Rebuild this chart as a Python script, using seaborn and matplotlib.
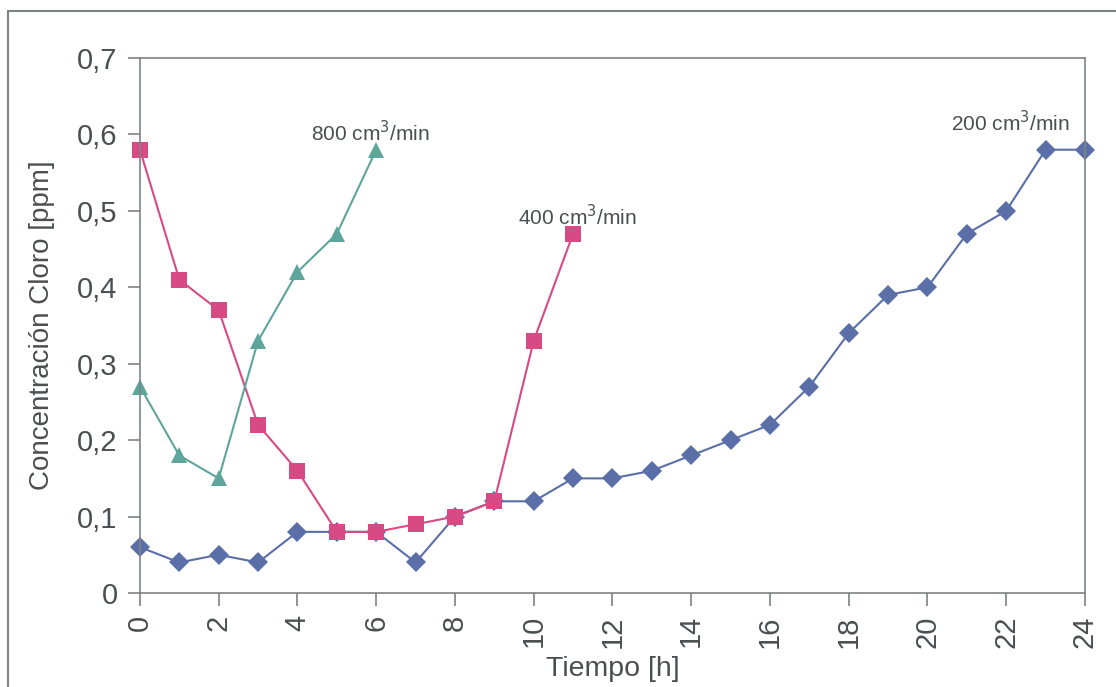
import pandas as pd
import seaborn as sns
import matplotlib.pyplot as plt
from matplotlib.lines import Line2D

# data
horas_200 = list(range(0, 25))
cloro_200 = [0.06, 0.04, 0.05, 0.04, 0.08, 0.08, 0.08, 0.04, 0.10, 0.12, 0.12, 0.15, 0.15,
             0.16, 0.18, 0.20, 0.22, 0.27, 0.34, 0.39, 0.40, 0.47, 0.50, 0.58, 0.58]
horas_400 = list(range(0, 12))
cloro_400 = [0.58, 0.41, 0.37, 0.22, 0.16, 0.08, 0.08, 0.09, 0.10, 0.12, 0.33, 0.47]
horas_800 = list(range(0, 7))
cloro_800 = [0.27, 0.18, 0.15, 0.33, 0.42, 0.47, 0.58]

series = ['200', '400', '800']
colores = {'200': '#5a6ea8', '400': '#d84a84', '800': '#5ea59b'}
marcadores = {'200': 'D', '400': 's', '800': '^'}
tamanos = {'200': 10, '400': 11.5, '800': 12}

df = pd.concat([
    pd.DataFrame({'t': horas_200, 'c': cloro_200, 'caudal': '200'}),
    pd.DataFrame({'t': horas_400, 'c': cloro_400, 'caudal': '400'}),
    pd.DataFrame({'t': horas_800, 'c': cloro_800, 'caudal': '800'}),
])

sns.set_style('white')
plt.rcParams['font.family'] = ['Liberation Sans', 'DejaVu Sans']
texto = '#4a4f52'
gris = '#7d8486'

fig = plt.figure(figsize=(11.16, 6.87), dpi=100)
ax = fig.add_axes([0.1254, 0.1368, 0.9722 - 0.1254, 0.9156 - 0.1368])

for s in series:
    d = df[df['caudal'] == s]
    sns.lineplot(data=d, x='t', y='c', ax=ax, color=colores[s], marker=marcadores[s],
                 markersize=tamanos[s], markeredgewidth=0, linewidth=1.5, clip_on=False,
                 legend=False)

ax.set_xlim(0, 24)
ax.set_ylim(0, 0.7)
ax.set_xticks(range(0, 25, 2))
ax.set_xticklabels([str(v) for v in range(0, 25, 2)], rotation=90)
yt = [i / 10 for i in range(8)]
ax.set_yticks(yt)
ax.set_yticklabels(['0'] + [f'0,{i}' for i in range(1, 8)])
ax.tick_params(axis='both', which='major', direction='out', length=9, width=1.2,
               color=gris, labelsize=21, labelcolor=texto, pad=7, left=True, bottom=True)
for sp in ax.spines.values():
    sp.set_color(gris)
    sp.set_linewidth(1.2)

ax.set_xlabel('Tiempo [h]', fontsize=20.5, color=texto, labelpad=6)
ax.set_ylabel('Concentración Cloro [ppm]', fontsize=20, color=texto, labelpad=16)

ax.text(5.84, 0.602, '800 cm$^3$/min', fontsize=15, color=texto, ha='center', va='center')
ax.text(11.1, 0.492, '400 cm$^3$/min', fontsize=15, color=texto, ha='center', va='center')
ax.text(22.1, 0.615, '200 cm$^3$/min', fontsize=15, color=texto, ha='center', va='center')

# outer frame of the scanned figure
fig.add_artist(Line2D([8 / 1116, 8 / 1116], [0, 1 - 11 / 687], transform=fig.transFigure,
                      color=gris, linewidth=1.5))
fig.add_artist(Line2D([8 / 1116, 1], [1 - 11 / 687, 1 - 11 / 687], transform=fig.transFigure,
                      color=gris, linewidth=1.5))

fig.savefig('out.png', dpi=100)
